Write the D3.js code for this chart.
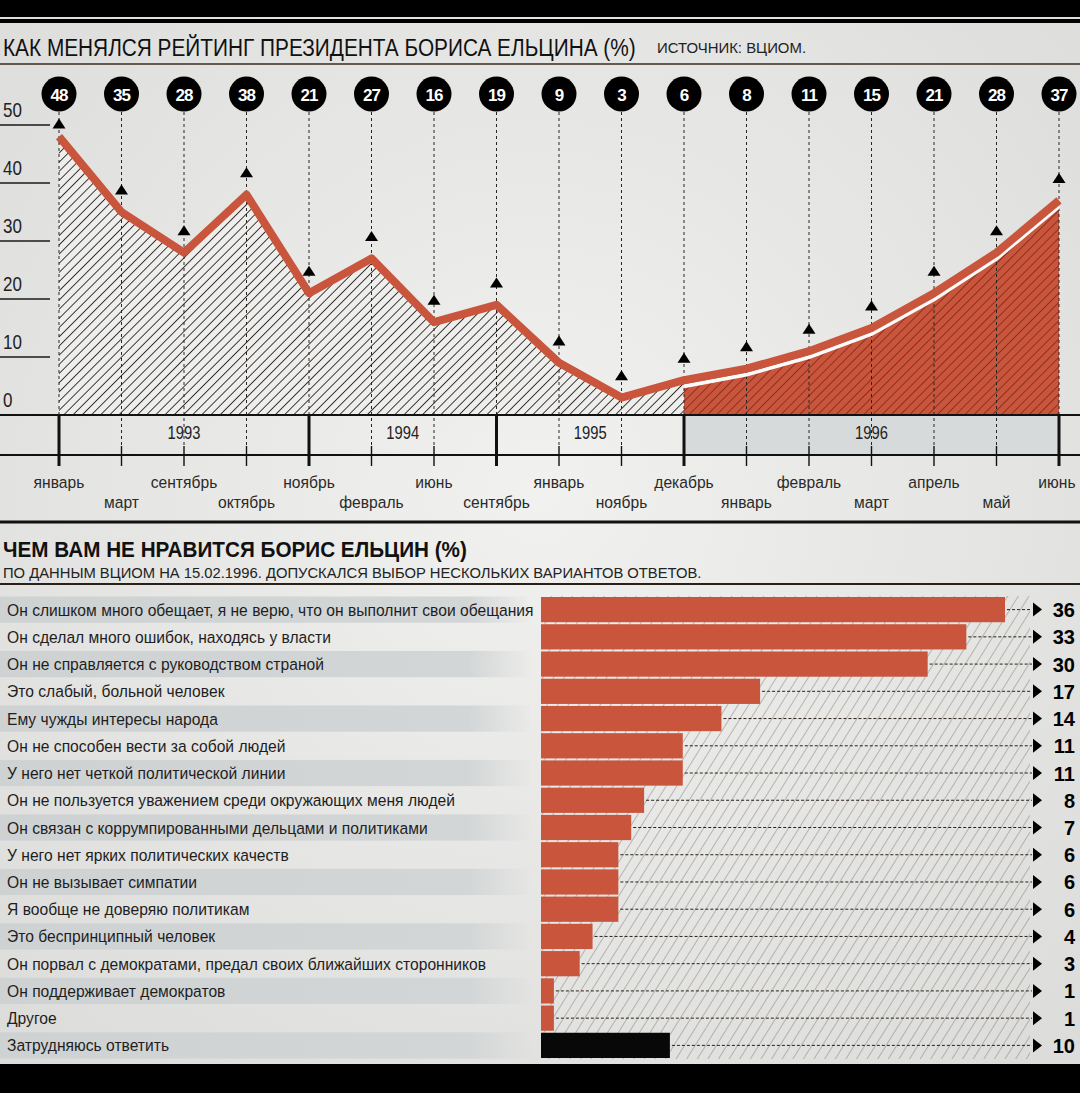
<!DOCTYPE html>
<html>
<head>
<meta charset="utf-8">
<script src="https://cdn.jsdelivr.net/npm/d3@7"></script>
<style>
  body { margin: 0; background: #e8e8e6; }
  svg { display: block; }
  text { font-family: "Liberation Sans", Arial, sans-serif; }
</style>
</head>
<body>
<div id="chart"></div>
<script>
const months = ["январь", "март", "сентябрь", "октябрь", "ноябрь", "февраль", "июнь", "сентябрь",
  "январь", "ноябрь", "декабрь", "январь", "февраль", "март", "апрель", "май", "июнь"];
const ratings = [48, 35, 28, 38, 21, 27, 16, 19, 9, 3, 6, 8, 11, 15, 21, 28, 37];
const yearLabels = ["1993", "1994", "1995", "1996"];
const yearBreaks = [0, 4, 7, 10, 16];
const yTicks = [0, 10, 20, 30, 40, 50];

const reasons = [
  "Он слишком много обещает, я не верю, что он выполнит свои обещания",
  "Он сделал много ошибок, находясь у власти",
  "Он не справляется с руководством страной",
  "Это слабый, больной человек",
  "Ему чужды интересы народа",
  "Он не способен вести за собой людей",
  "У него нет четкой политической линии",
  "Он не пользуется уважением среди окружающих меня людей",
  "Он связан с коррумпированными дельцами и политиками",
  "У него нет ярких политических качеств",
  "Он не вызывает симпатии",
  "Я вообще не доверяю политикам",
  "Это беспринципный человек",
  "Он порвал с демократами, предал своих ближайших сторонников",
  "Он поддерживает демократов",
  "Другое",
  "Затрудняюсь ответить"
];
const shares = [36, 33, 30, 17, 14, 11, 11, 8, 7, 6, 6, 6, 4, 3, 1, 1, 10];

const width = 1080;
const height = 1093;
const red = "#c9553d";

const svg = d3.select("#chart").append("svg")
  .attr("width", width)
  .attr("height", height);

const defs = svg.append("defs");

const bg = defs.append("radialGradient").attr("id", "bg")
  .attr("cx", "50%").attr("cy", "45%").attr("r", "70%");
bg.append("stop").attr("offset", "0%").attr("stop-color", "#f1f1ef");
bg.append("stop").attr("offset", "100%").attr("stop-color", "#dcdcda");

function hatch(id, angle, step, color, w, fill) {
  const p = defs.append("pattern").attr("id", id)
    .attr("patternUnits", "userSpaceOnUse")
    .attr("width", step).attr("height", step)
    .attr("patternTransform", `rotate(${angle})`);
  if (fill) p.append("rect").attr("width", step).attr("height", step).attr("fill", fill);
  p.append("line").attr("x1", 0).attr("y1", 0).attr("x2", 0).attr("y2", step)
    .attr("stroke", color).attr("stroke-width", w);
}
hatch("hatchDark", 45, 6.5, "#120c08", 1.6, "#eeeeec");
hatch("hatchRed", 45, 6.5, "#7a2414", 1.5, red);
hatch("hatchLight", 32, 9, "#7a7672", 0.9, null);

const rowShade = defs.append("linearGradient").attr("id", "rowShade");
rowShade.append("stop").attr("offset", "0%").attr("stop-color", "#cfd2d3");
rowShade.append("stop").attr("offset", "88%").attr("stop-color", "#d3d6d7");
rowShade.append("stop").attr("offset", "100%").attr("stop-color", "#d3d6d7").attr("stop-opacity", 0);

// condensed text: a normal face squeezed horizontally
function ctext(parent, str, px, py, size, k) {
  return parent.append("text")
    .attr("transform", `translate(${px},${py}) scale(${k},1)`)
    .attr("font-size", size)
    .text(str);
}

svg.append("rect").attr("width", width).attr("height", height).attr("fill", "url(#bg)");

// frame strips
svg.append("rect").attr("x", 0).attr("y", 0).attr("width", width).attr("height", 17).attr("fill", "#000");
svg.append("rect").attr("x", 0).attr("y", 19).attr("width", width).attr("height", 4).attr("fill", "#000");
svg.append("rect").attr("x", 0).attr("y", 1064).attr("width", width).attr("height", 29).attr("fill", "#000");

// ---------- top chart ----------
ctext(svg, "КАК МЕНЯЛСЯ РЕЙТИНГ ПРЕЗИДЕНТА БОРИСА ЕЛЬЦИНА (%)", 3, 56, 23, 0.905).attr("fill", "#111");
ctext(svg, "ИСТОЧНИК: ВЦИОМ.", 657, 53, 14.5, 1.03).attr("fill", "#222");
svg.append("line").attr("x1", 0).attr("x2", width).attr("y1", 64).attr("y2", 64)
  .attr("stroke", "#3a2a20").attr("stroke-width", 1.5);

const x = d3.scalePoint().domain(d3.range(months.length)).range([59, 1059]);
const y = d3.scaleLinear().domain([0, 50]).range([415, 125]);

const pts = ratings.map((v, i) => ({ i, v }));

// 1996 band
svg.append("rect")
  .attr("x", x(10)).attr("y", y(0))
  .attr("width", x(16) - x(10)).attr("height", 40)
  .attr("fill", "#d6dada");

const area = d3.area().x(d => x(d.i)).y0(y(0)).y1(d => y(d.v));
svg.append("path").datum(pts.slice(0, 11)).attr("d", area).attr("fill", "url(#hatchDark)");
svg.append("path").datum(pts.slice(10)).attr("d", area).attr("fill", "url(#hatchRed)");

// y ticks
yTicks.forEach(t => {
  if (t > 0) {
    svg.append("line").attr("x1", 0).attr("x2", 50).attr("y1", y(t)).attr("y2", y(t))
      .attr("stroke", "#1a1a1a").attr("stroke-width", 1.3);
  }
  ctext(svg, t, 3, y(t) - 8, 20, 0.85).attr("fill", "#222");
});

// dashed guides
svg.append("g").selectAll("line").data(pts).join("line")
  .attr("x1", d => x(d.i)).attr("x2", d => x(d.i))
  .attr("y1", 112).attr("y2", 446)
  .attr("stroke", "#2a2420").attr("stroke-width", 1)
  .attr("stroke-dasharray", "3,3");

// white edge under 1996 segment, then the line
const line = d3.line().x(d => x(d.i)).y(d => y(d.v));
svg.append("path").datum(pts.slice(10)).attr("d", line)
  .attr("transform", "translate(0,6)")
  .attr("fill", "none").attr("stroke", "#fbfbf9").attr("stroke-width", 4);
svg.append("path").datum(pts).attr("d", line)
  .attr("fill", "none").attr("stroke", red).attr("stroke-width", 8)
  .attr("stroke-linejoin", "round");

// triangles
svg.append("g").selectAll("path").data(pts).join("path")
  .attr("d", d => {
    const cx = x(d.i), by = y(Math.min(d.v + 3, 49.4));
    return `M${cx - 6.5},${by}L${cx + 6.5},${by}L${cx},${by - 10}Z`;
  })
  .attr("fill", "#000");

// value circles
const bubbles = svg.append("g").selectAll("g").data(pts).join("g")
  .attr("transform", d => `translate(${x(d.i)},94)`);
bubbles.append("circle").attr("r", 17.5).attr("fill", "#000");
bubbles.append("text").attr("text-anchor", "middle").attr("y", 6.5)
  .attr("font-family", "'DejaVu Sans', sans-serif").attr("font-weight", "bold")
  .attr("font-size", 17).attr("fill", "#fff").attr("letter-spacing", -1)
  .text(d => d.v);

// base lines
svg.append("line").attr("x1", 0).attr("x2", width).attr("y1", y(0)).attr("y2", y(0))
  .attr("stroke", "#111").attr("stroke-width", 2);
svg.append("line").attr("x1", 0).attr("x2", width).attr("y1", 455).attr("y2", 455)
  .attr("stroke", "#111").attr("stroke-width", 2.2);

// month ticks
svg.append("g").selectAll("line").data(pts).join("line")
  .attr("x1", d => x(d.i)).attr("x2", d => x(d.i))
  .attr("y1", d => yearBreaks.includes(d.i) ? y(0) : 446)
  .attr("y2", 466)
  .attr("stroke", "#111")
  .attr("stroke-width", d => yearBreaks.includes(d.i) ? 3 : 1.4);

// year labels
yearLabels.forEach((lab, k) => {
  ctext(svg, lab, (x(yearBreaks[k]) + x(yearBreaks[k + 1])) / 2, 439, 18, 0.82)
    .attr("text-anchor", "middle").attr("fill", "#222");
});

// month labels, two staggered rows
svg.append("g").selectAll("text").data(months).join("text")
  .attr("transform", (d, i) => `translate(${Math.min(x(i), 1057)},${i % 2 ? 508 : 488}) scale(0.92,1)`)
  .attr("text-anchor", "middle")
  .attr("font-size", 17).attr("fill", "#2a2a2a")
  .text(d => d);

// ---------- bottom chart ----------
svg.append("line").attr("x1", 0).attr("x2", width).attr("y1", 522).attr("y2", 522)
  .attr("stroke", "#111").attr("stroke-width", 3);
ctext(svg, "ЧЕМ ВАМ НЕ НРАВИТСЯ БОРИС ЕЛЬЦИН (%)", 3, 557, 22.5, 0.92)
  .attr("font-weight", "bold").attr("fill", "#111");
ctext(svg, "ПО ДАННЫМ ВЦИОМ НА 15.02.1996. ДОПУСКАЛСЯ ВЫБОР НЕСКОЛЬКИХ ВАРИАНТОВ ОТВЕТОВ.", 3, 578, 14.5, 1.02)
  .attr("fill", "#222");
svg.append("line").attr("x1", 0).attr("x2", width).attr("y1", 584).attr("y2", 584)
  .attr("stroke", "#2a2018").attr("stroke-width", 2);

const xb = d3.scaleLinear().domain([0, 36]).range([541, 1005]);
const yb = d3.scaleBand().domain(d3.range(reasons.length)).range([596, 1059]);
const step = yb.bandwidth();

svg.append("g").selectAll("rect").data(reasons).join("rect")
  .attr("x", 0).attr("y", (d, i) => yb(i) + 0.5)
  .attr("width", 532).attr("height", step - 1)
  .attr("fill", (d, i) => i % 2 ? "none" : "url(#rowShade)");

svg.append("rect").attr("x", xb(0)).attr("y", 596)
  .attr("width", 1030 - xb(0)).attr("height", 1059 - 596)
  .attr("fill", "url(#hatchLight)");

svg.append("g").selectAll("text").data(reasons).join("text")
  .attr("transform", (d, i) => `translate(7,${yb(i) + step / 2 + 6}) scale(0.92,1)`)
  .attr("font-size", 17).attr("fill", "#1e1e1e")
  .text(d => d);

svg.append("g").selectAll("line").data(shares).join("line")
  .attr("x1", d => xb(d) + 2).attr("x2", 1032)
  .attr("y1", (d, i) => yb(i) + step / 2).attr("y2", (d, i) => yb(i) + step / 2)
  .attr("stroke", "#2a2018").attr("stroke-width", 1)
  .attr("stroke-dasharray", "3,2");

svg.append("g").selectAll("rect").data(shares).join("rect")
  .attr("x", xb(0)).attr("y", (d, i) => yb(i) + 1)
  .attr("width", d => xb(d) - xb(0)).attr("height", step - 2)
  .attr("fill", (d, i) => i === shares.length - 1 ? "#080808" : red);

svg.append("g").selectAll("path").data(shares).join("path")
  .attr("d", (d, i) => {
    const cy = yb(i) + step / 2;
    return `M1033,${cy - 7}L1042,${cy}L1033,${cy + 7}Z`;
  })
  .attr("fill", "#000");

svg.append("g").selectAll("text").data(shares).join("text")
  .attr("x", 1075).attr("y", (d, i) => yb(i) + step / 2 + 7.5)
  .attr("text-anchor", "end")
  .attr("font-family", "'DejaVu Sans', sans-serif").attr("font-weight", "bold")
  .attr("font-size", 20).attr("fill", "#000")
  .text(d => d);
</script>
</body>
</html>
